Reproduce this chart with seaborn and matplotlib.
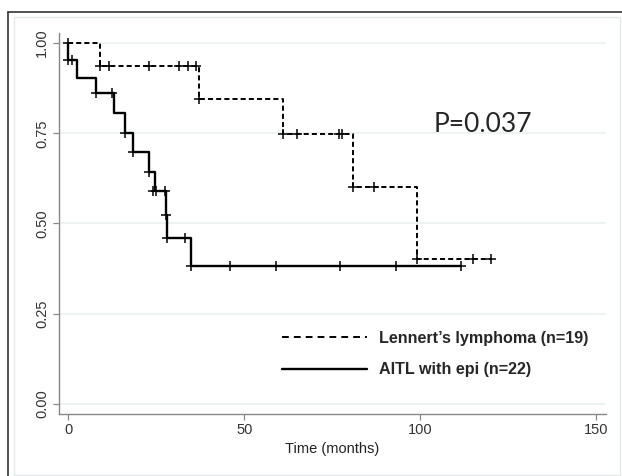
import numpy as np
import pandas as pd
import matplotlib
matplotlib.use("Agg")
import matplotlib.pyplot as plt
import seaborn as sns
from matplotlib.lines import Line2D
from matplotlib.patches import Rectangle

# Kaplan-Meier steps (time in months, survival)
lennert_t = [0, 9.1, 37.2, 61.0, 80.8, 99.2, 120.1]
lennert_s = [1.0, 0.937, 0.844, 0.749, 0.600, 0.401, 0.401]
lennert_cens_t = [9.1, 11.7, 23.1, 31.4, 34.0, 36.4, 37.2, 61.0, 64.9, 77.0, 77.7,
                  80.8, 87.0, 99.2, 114.9, 120.1]
lennert_cens_s = [0.937, 0.937, 0.937, 0.937, 0.937, 0.937, 0.844, 0.749, 0.749,
                  0.749, 0.749, 0.600, 0.600, 0.401, 0.401, 0.401]

aitl_t = [0, 0.1, 2.6, 8.0, 13.1, 16.2, 18.5, 23.0, 24.7, 27.7, 28.0, 34.8, 111.6]
aitl_s = [1.0, 0.952, 0.903, 0.861, 0.806, 0.751, 0.697, 0.642, 0.590, 0.522,
          0.459, 0.382, 0.382]
aitl_cens_t = [0, 0.1, 1.0, 8.0, 12.4, 16.2, 18.5, 23.0, 24.2, 24.9, 27.5, 27.8,
               28.0, 33.2, 34.8, 46.1, 59.1, 77.2, 93.0, 111.6]
aitl_cens_s = [1.0, 0.952, 0.952, 0.861, 0.861, 0.751, 0.697, 0.642, 0.590, 0.590,
               0.590, 0.522, 0.459, 0.459, 0.382, 0.382, 0.382, 0.382, 0.382, 0.382]

labels = ["Lennert\u2019s lymphoma (n=19)", "AITL with epi (n=22)"]
x_ticks = [0, 50, 100, 150]
y_ticks = [0.0, 0.25, 0.5, 0.75, 1.0]

sns.set_style("white")
plt.rcParams["font.family"] = ["Liberation Sans", "DejaVu Sans"]

fig = plt.figure(figsize=(6.22, 4.76), dpi=100)
ax = fig.add_axes([0.0944, 0.131, 0.880, 0.800])

# outer frame of the cropped figure
fig.add_artist(Rectangle((14 / 622, 1 / 476), 606 / 622, 458 / 476,
                         transform=fig.transFigure, fill=False,
                         edgecolor="#e4e8e8", lw=1))
fig.add_artist(Line2D([8 / 622, 1], [1 - 12 / 476, 1 - 12 / 476],
                      transform=fig.transFigure, color="#333333", lw=1.2))
fig.add_artist(Line2D([8 / 622, 8 / 622], [0, 1 - 12 / 476],
                      transform=fig.transFigure, color="#333333", lw=1.2))

for yv in y_ticks:
    ax.axhline(yv, color="#eaf0f0", lw=1.2, zorder=0)

sns.lineplot(x=lennert_t, y=lennert_s, drawstyle="steps-post", estimator=None,
             sort=False, color="black", lw=1.4, ax=ax,
             linestyle=(0, (2.6, 1.6)))
sns.lineplot(x=aitl_t, y=aitl_s, drawstyle="steps-post", estimator=None,
             sort=False, color="black", lw=1.7, ax=ax)

sns.scatterplot(x=lennert_cens_t, y=lennert_cens_s, marker="+", color="black",
                s=55, linewidth=1.1, ax=ax, zorder=5)
sns.scatterplot(x=aitl_cens_t, y=aitl_cens_s, marker="+", color="black",
                s=55, linewidth=1.1, ax=ax, zorder=5)

ax.set_xlim(-2.64, 152.75)
ax.set_ylim(-0.0277, 1.0286)
ax.set_xticks(x_ticks)
ax.set_yticks(y_ticks)
ax.set_xticklabels([str(v) for v in x_ticks])
ax.set_yticklabels([f"{v:.2f}" for v in y_ticks], rotation=90, va="center")
ax.tick_params(axis="both", length=4, width=0.9, color="#888888",
               labelcolor="#333333", labelsize=10.5, direction="out",
               bottom=True, left=True, pad=3)
ax.set_xlabel("Time (months)", fontsize=10.5, color="#222222", labelpad=3)
ax.set_ylabel("")

for side in ["top", "right"]:
    ax.spines[side].set_visible(False)
for side in ["left", "bottom"]:
    ax.spines[side].set_color("#888888")
    ax.spines[side].set_linewidth(1.0)

# p-value, placed in figure fractions
fig.text(483 / 622, 1 - 125 / 476, "P=0.037", fontsize=19, family="Lato",
         ha="center", va="center")

handles = [
    Line2D([], [], color="black", lw=1.4, linestyle=(0, (3.5, 2.6))),
    Line2D([], [], color="black", lw=1.7),
]
leg = ax.legend(handles, labels, loc="center left",
                bbox_to_anchor=(281.7 / 622, 1 - 354 / 476),
                bbox_transform=fig.transFigure, frameon=False,
                borderpad=0, borderaxespad=0, handlelength=5.3,
                handletextpad=0.75, labelspacing=1.05,
                prop={"family": "Liberation Sans", "weight": "bold",
                      "size": 11.6})

fig.savefig("out.png", dpi=100)
